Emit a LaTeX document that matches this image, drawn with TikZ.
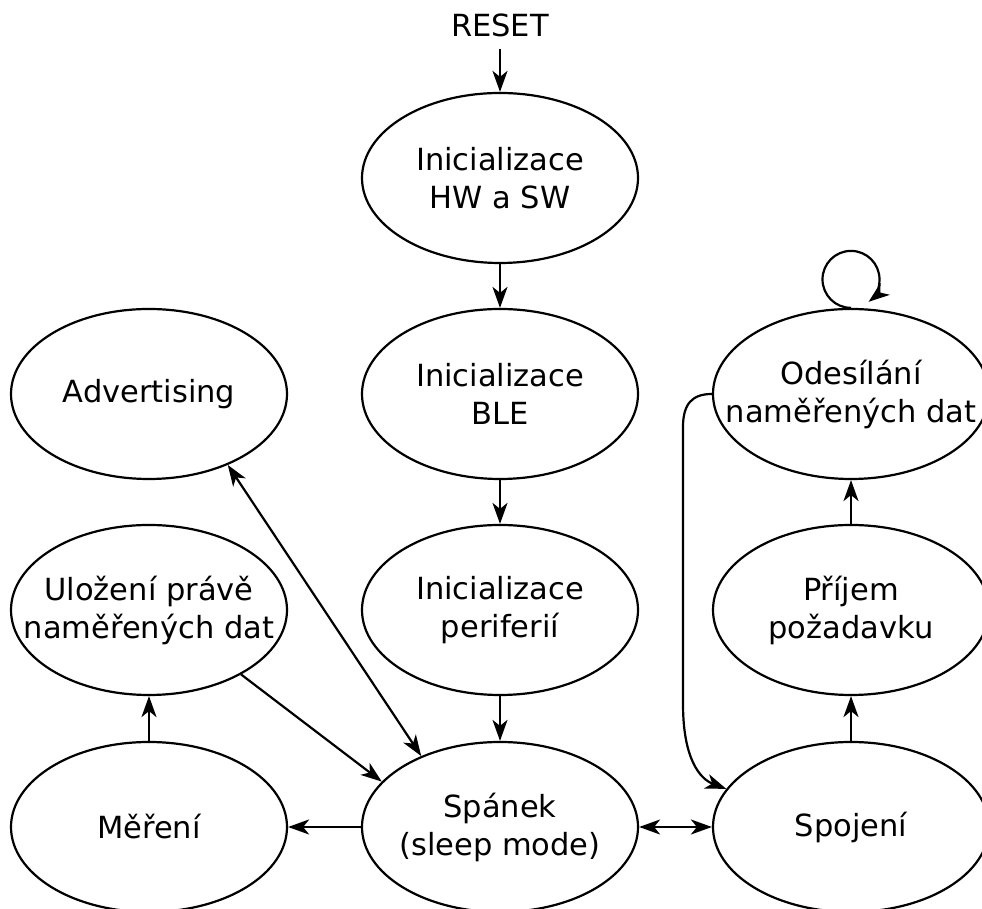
\documentclass[tikz,border=0pt]{standalone}
\usepackage{fontspec}
\setmainfont{DejaVu Sans}
\usetikzlibrary{arrows.meta,shapes.geometric}

\begin{document}
\begin{tikzpicture}[x=1pt,y=1pt,
  line width=2.2pt,
  >={Stealth[length=21pt,width=15pt,inset=6pt]},
  stnode/.style={draw, ellipse, minimum width=276pt, minimum height=170pt, inner sep=0pt},
  txt/.style={align=center, font=\fontsize{30.5}{38}\selectfont, inner sep=0pt}
]
\useasboundingbox (0,0) rectangle (982,909);

% start label
\node[txt, anchor=base] (reset) at (500,872) {RESET};

% middle column: initialisation and sleep
\node[stnode, label={[txt]center:Inicializace\\HW a SW}] (hw)  at (500,731) {};
\node[stnode, label={[txt]center:Inicializace\\BLE}]      (ble) at (500,515) {};
\node[stnode, label={[txt]center:Inicializace\\periferií}] (per) at (500,299) {};
\node[stnode, label={[txt]center:Spánek\\(sleep mode)}]  (sl)  at (500,82)  {};

% left column
\node[stnode, label={[txt]center:Advertising}] (adv) at (149,515) {};
\node[stnode, label={[txt]center:Uložení právě\\naměřených dat}] (ul) at (149,299) {};
\node[stnode, label={[txt]center:Měření}] (me) at (149,82) {};

% right column
\node[stnode, label={[txt]center:Odesílání\\naměřených dat}] (od) at (851,515) {};
\node[stnode, label={[txt]center:Příjem\\požadavku}] (pr) at (851,299) {};
\node[stnode, label={[txt]center:Spojení}] (spo) at (851,82) {};

% transitions
\draw[->, shorten <=10pt] (reset.south) -- (hw.north);
\draw[->] (hw.south) -- (ble.north);
\draw[->] (ble.south) -- (per.north);
\draw[->] (per.south) -- (sl.north);

\draw[->] (sl.west) -- (me.east);
\draw[->] (me.north) -- (ul.south);
\draw[->] (ul.-35) -- (sl.159.6);
\draw[<->] (adv.-42) -- (sl.138);

\draw[<->] (sl.east) -- (spo.west);
\draw[->] (spo.north) -- (pr.south);
\draw[->] (pr.north) -- (od.south);

% sending data: loop on itself and return to the connection
\draw[->] (od.north) arc[start angle=-90, end angle=-412, radius=28.5];
\draw[->] (od.west) .. controls (692,515) and (683,505) .. (683,482)
  -- (683,205) .. controls (683,150) and (700,130) .. (spo.163.6);
\end{tikzpicture}
\end{document}
